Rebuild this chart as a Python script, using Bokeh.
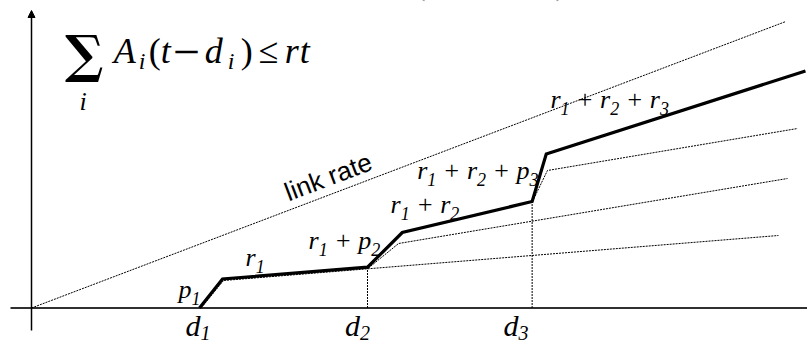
import math
from bokeh.plotting import figure
from bokeh.models import Range1d, ColumnDataSource, Arrow, NormalHead
from bokeh.core.properties import value
from bokeh.embed import file_html
from bokeh.resources import INLINE

# Deadlines d_i on the time axis
d = [1.0, 2.0, 2.98]
d_subs = ["1", "2", "3"]

# Aggregate arrival envelope sum_i A_i(t - d_i) (thick line)
curve_t = [1.0, 1.137, 2.0, 2.207, 2.98, 3.064, 4.607]
curve_a = [0.0, 0.29, 0.408, 0.755, 1.065, 1.54, 2.37]

# Link rate r*t
link_t = [0.0, 4.49]
link_a = [0.0, 2.865]

# Partial envelopes, one per additional flow (dotted)
env1_t = [1.01, 1.143, 4.446]
env1_a = [0.0, 0.275, 0.725]
env2_t = [2.006, 2.185, 4.5]
env2_a = [0.40, 0.645, 1.295]
env3_t = [2.982, 3.071, 4.56]
env3_a = [1.065, 1.375, 1.795]

# Axis extents
axis_t = [-0.125, 4.62]
axis_a = [-0.225, 2.975]

# Segment labels: anchor (t, a) and pieces (text, is_subscript)
seg_labels = [
    (0.875, 0.105, [("p", 0), ("1", 1)]),
    (1.274, 0.425, [("r", 0), ("1", 1)]),
    (1.649, 0.592, [("r", 0), ("1", 1), (" + ", 0), ("p", 0), ("2", 1)]),
    (2.137, 0.958, [("r", 0), ("1", 1), (" + ", 0), ("r", 0), ("2", 1)]),
    (2.296, 1.292, [("r", 0), ("1", 1), (" + ", 0), ("r", 0), ("2", 1), (" + ", 0), ("p", 0), ("3", 1)]),
    (3.089, 2.008, [("r", 0), ("1", 1), (" + ", 0), ("r", 0), ("2", 1), (" + ", 0), ("r", 0), ("3", 1)]),
]
# nudges (in t units) of the d_i labels relative to d_i
d_label_shift = [-0.083, -0.134, -0.171]

# pixels per data unit
PX_T = 168.0
PX_A = 100.0
# the renderer places the alphabetic baseline about this fraction of an em low
BASE_FIX = 0.31

W, H = 807, 345
p = figure(width=W, height=H, output_backend="svg", toolbar_location=None,
           x_axis_type=None, y_axis_type=None,
           x_range=Range1d(-31 / PX_T, (W - 31) / PX_T),
           y_range=Range1d(-37.5 / PX_A, 307.5 / PX_A),
           min_border=0, outline_line_color=None, background_fill_color="white")
p.grid.visible = False

SERIF = value("Liberation Serif")
SANS = value("Liberation Sans")

# axes
p.line(axis_t, [0, 0], line_color="#303030", line_width=2)
p.add_layout(Arrow(end=NormalHead(size=7, fill_color="black", line_color="black", line_width=1),
                   x_start=0, y_start=axis_a[0], x_end=0, y_end=axis_a[1],
                   line_color="black", line_width=1.5))

# dotted reference lines
DOT = dict(line_color="black", line_width=1, line_dash="2 1")
p.line(link_t, link_a, **DOT)
p.line(env1_t, env1_a, **DOT)
p.line(env2_t, env2_a, **DOT)
p.line(env3_t, env3_a, **DOT)
p.segment(x0=[curve_t[2], curve_t[4]], y0=[0, 0],
          x1=[curve_t[2], curve_t[4]], y1=[curve_a[2], curve_a[4]], **DOT)

# aggregate envelope
p.line(curve_t, curve_a, line_color="black", line_width=3.2, line_join="miter")

# --- text layout helpers -------------------------------------------------
ITALIC_W = {"r": 389, "p": 500, "d": 500, "1": 500, "2": 500, "3": 500,
            " ": 250, "+": 675}


def text_width(s, size):
    return sum(ITALIC_W.get(ch, 500) for ch in s) * size / 1000.0


def lay_out(items, size, sub_size, sub_drop_px):
    main = dict(x=[], y=[], text=[], dx=[])
    sub = dict(x=[], y=[], text=[], dx=[])
    for t0, a0, pieces in items:
        off = 0.0
        for s, is_sub in pieces:
            fs = sub_size if is_sub else size
            core = s.strip()
            lead = s[:len(s) - len(s.lstrip())]
            trail = s[len(s.rstrip()):]
            off += text_width(lead, fs)
            tgt = sub if is_sub else main
            tgt["x"].append(t0)
            tgt["y"].append(a0 - (sub_drop_px / PX_A if is_sub else 0))
            tgt["text"].append(core)
            tgt["dx"].append(off)
            off += text_width(core, fs) + text_width(trail, fs)
    return main, sub


def draw(src, size, style="italic", font=SERIF):
    src = dict(src)
    src["y"] = [y + BASE_FIX * size / PX_A for y in src["y"]]
    p.text(x="x", y="y", text="text", x_offset="dx", source=ColumnDataSource(src),
           text_font=font, text_font_style=style, text_font_size=f"{size}px",
           text_color="black", text_align="left", text_baseline="alphabetic")


m, s = lay_out(seg_labels, 26, 18, 6.5)
draw(m, 26)
draw(s, 18)

d_items = [(dv + sh, -0.265, [("d", 0), (sb, 1)]) for dv, sh, sb in zip(d, d_label_shift, d_subs)]
m, s = lay_out(d_items, 30, 20, 5)
draw(m, 30)
draw(s, 20)

# link-rate label along the r*t line
ang = math.atan((link_a[1] * PX_A) / (link_t[1] * PX_T))
lr_size = 26
lr_fix = BASE_FIX * lr_size
p.text(x=[1.53 - lr_fix * math.sin(ang) / PX_T], y=[1.075 + lr_fix * math.cos(ang) / PX_A],
       text=["link rate"], angle=ang, text_font=SANS,
       text_font_size=f"{lr_size}px", text_color="black", text_align="left",
       text_baseline="alphabetic")

# admission condition: sum_i A_i(t - d_i) <= r t
ft, fa = 0.49, 2.458
formula = [
    ("A", 0, 36, "italic", 0), ("i", 25, 24, "italic", 6.5),
    ("(", 35, 36, "normal", 0), ("t", 47, 36, "italic", 0),
    ("\u2212", 59, 48, "normal", 5), ("d", 91, 36, "italic", 0),
    ("i", 114, 24, "italic", 6.5), (")", 127, 36, "normal", 0),
    ("\u2264", 145, 36, "normal", 0), ("r", 171, 36, "italic", 0),
    ("t", 186, 36, "italic", 0),
]
for txt, dx, size, style, drop in formula:
    draw(dict(x=[ft], y=[fa - drop / PX_A], text=[txt], dx=[dx]), size, style)

draw(dict(x=[0.2], y=[2.385], text=["\u2211"], dx=[0]), 51, "bold", value("DejaVu Serif"))
draw(dict(x=[0.285], y=[1.985], text=["i"], dx=[0]), 26, "italic")

# bottom of the caption line above
draw(dict(x=[(414 - 31) / PX_T, (555 - 31) / PX_T], y=[3.15, 3.15],
          text=["(", ")"], dx=[0, 0]), 33, "normal")

open("out.html", "w").write(file_html(p, INLINE))
